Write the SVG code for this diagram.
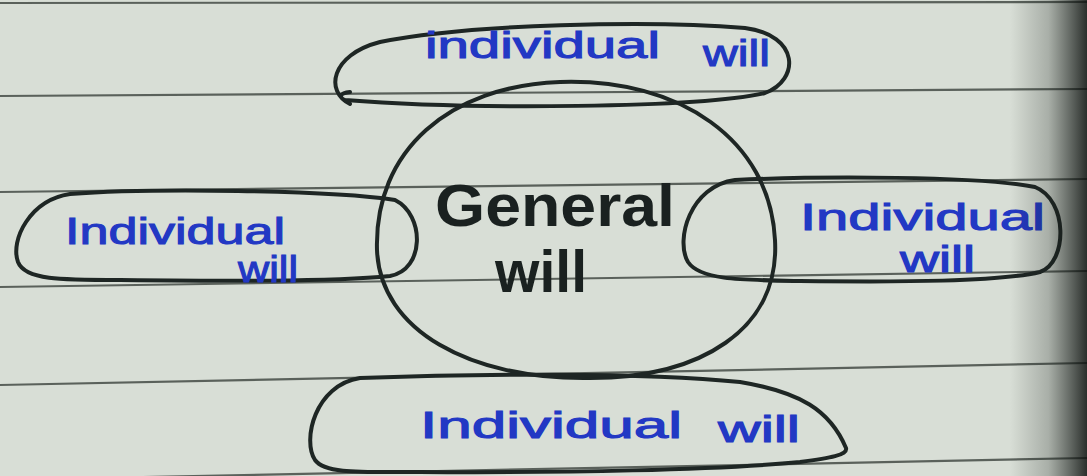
<svg xmlns="http://www.w3.org/2000/svg" width="1087" height="476" viewBox="0 0 1087 476">
<defs>
<linearGradient id="shade" x1="0" y1="0" x2="1" y2="0">
<stop offset="0" stop-color="#1a201c" stop-opacity="0"/>
<stop offset="0.5" stop-color="#1a201c" stop-opacity="0.25"/>
<stop offset="1" stop-color="#0c100e" stop-opacity="0.85"/>
</linearGradient>
<style>
.rule{stroke:#5a615b;stroke-width:2.2;fill:none}
.pen{stroke:#1e2624;stroke-width:4;fill:none;stroke-linecap:round;stroke-linejoin:round}
.lab{font-family:"Liberation Sans","DejaVu Sans",sans-serif;fill:#2238c4;stroke:#2238c4;stroke-width:1;font-size:36px}
.gen{font-family:"Liberation Sans","DejaVu Sans",sans-serif;fill:#1a2120;font-size:60px;font-weight:bold}
</style>
</defs>
<rect width="1087" height="476" fill="#d8ded6"/>
<g id="paper-lines">
<line class="rule" x1="0" y1="3" x2="1087" y2="2"/>
<line class="rule" x1="0" y1="96" x2="1087" y2="89"/>
<line class="rule" x1="0" y1="192" x2="1087" y2="179"/>
<line class="rule" x1="0" y1="287" x2="1087" y2="271"/>
<line class="rule" x1="0" y1="385" x2="1087" y2="363"/>
<line class="rule" x1="0" y1="480" x2="1087" y2="458"/>
</g>
<g id="general-will">
<path class="pen" d="M 560 82 C 680 78 770 140 775 240 C 780 330 700 378 590 378 C 470 380 380 330 377 250 C 374 150 450 86 560 82 Z"/>
<text class="gen" x="435" y="226" textLength="240" lengthAdjust="spacingAndGlyphs">General</text>
<text class="gen" x="495" y="292" textLength="92" lengthAdjust="spacingAndGlyphs">will</text>
</g>
<g id="individual-top">
<path class="pen" d="M 350 104 C 325 92 330 55 380 42 C 470 24 650 20 745 28 C 800 35 800 80 765 93 C 700 108 470 110 345 100 C 338 97 340 93 350 92"/>
<text class="lab" x="425" y="58" textLength="235" lengthAdjust="spacingAndGlyphs">individual</text>
<text class="lab" x="703" y="66" textLength="67" lengthAdjust="spacingAndGlyphs">will</text>
</g>
<g id="individual-left">
<path class="pen" d="M 70 194 C 30 200 10 240 18 262 C 25 280 60 280 120 280 C 220 281 330 282 390 276 C 425 270 425 215 395 200 C 330 190 150 188 70 194 Z"/>
<text class="lab" x="65" y="244" textLength="220" lengthAdjust="spacingAndGlyphs">Individual</text>
<text class="lab" x="238" y="282" textLength="60" lengthAdjust="spacingAndGlyphs">will</text>
</g>
<g id="individual-right">
<path class="pen" d="M 735 180 C 690 186 675 240 688 262 C 700 280 740 280 800 281 C 900 282 1000 282 1040 272 C 1068 262 1068 200 1035 187 C 980 176 820 176 735 180 Z"/>
<text class="lab" x="800" y="230" textLength="245" lengthAdjust="spacingAndGlyphs">Individual</text>
<text class="lab" x="900" y="272" textLength="75" lengthAdjust="spacingAndGlyphs">will</text>
</g>
<g id="individual-bottom">
<path class="pen" d="M 360 378 C 315 385 302 440 315 460 C 325 474 360 472 420 472 C 560 473 720 470 800 462 C 830 458 848 455 846 448 C 830 410 800 392 740 382 C 640 372 470 374 360 378 Z"/>
<text class="lab" x="420" y="438" textLength="262" lengthAdjust="spacingAndGlyphs">Individual</text>
<text class="lab" x="718" y="442" textLength="82" lengthAdjust="spacingAndGlyphs">will</text>
</g>
<rect x="1010" y="0" width="77" height="476" fill="url(#shade)"/>
</svg>
